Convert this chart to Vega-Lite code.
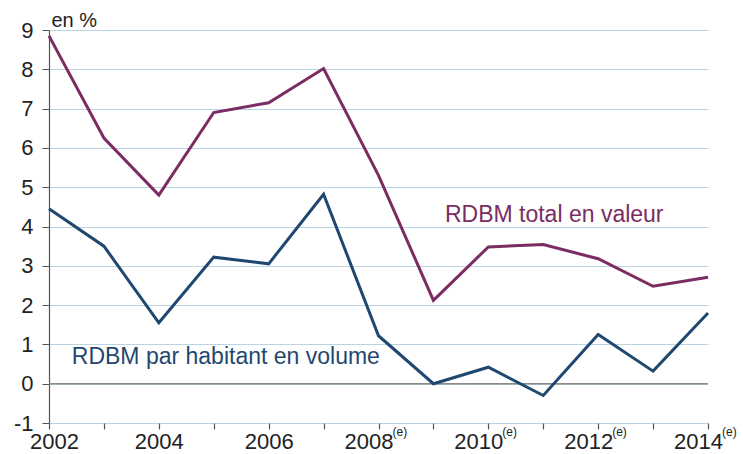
{
  "$schema": "https://vega.github.io/schema/vega-lite/v6.json",
  "width": 659,
  "height": 393,
  "autosize": {"type": "none"},
  "padding": {"left": 49, "top": 30, "right": 35, "bottom": 31},
  "background": "white",
  "config": {
    "view": {"stroke": null},
    "font": "Liberation Sans",
    "axis": {"labelFont": "Liberation Sans", "labelColor": "#222", "labelFontSize": 22, "labelOverlap": false}
  },
  "datasets": {
    "series": [
      {"year": 2002, "value": 8.85, "series": "total"},
      {"year": 2003, "value": 6.25, "series": "total"},
      {"year": 2004, "value": 4.8, "series": "total"},
      {"year": 2005, "value": 6.9, "series": "total"},
      {"year": 2006, "value": 7.15, "series": "total"},
      {"year": 2007, "value": 8.02, "series": "total"},
      {"year": 2008, "value": 5.3, "series": "total"},
      {"year": 2009, "value": 2.12, "series": "total"},
      {"year": 2010, "value": 3.48, "series": "total"},
      {"year": 2011, "value": 3.54, "series": "total"},
      {"year": 2012, "value": 3.18, "series": "total"},
      {"year": 2013, "value": 2.48, "series": "total"},
      {"year": 2014, "value": 2.71, "series": "total"},
      {"year": 2002, "value": 4.45, "series": "hab"},
      {"year": 2003, "value": 3.5, "series": "hab"},
      {"year": 2004, "value": 1.55, "series": "hab"},
      {"year": 2005, "value": 3.22, "series": "hab"},
      {"year": 2006, "value": 3.05, "series": "hab"},
      {"year": 2007, "value": 4.82, "series": "hab"},
      {"year": 2008, "value": 1.22, "series": "hab"},
      {"year": 2009, "value": 0.0, "series": "hab"},
      {"year": 2010, "value": 0.42, "series": "hab"},
      {"year": 2011, "value": -0.3, "series": "hab"},
      {"year": 2012, "value": 1.25, "series": "hab"},
      {"year": 2013, "value": 0.32, "series": "hab"},
      {"year": 2014, "value": 1.8, "series": "hab"}
    ],
    "labels": [
      {"year": 2011.2, "value": 4.3, "label": "RDBM total en valeur", "series": "total"},
      {"year": 2005.22, "value": 0.69, "label": "RDBM par habitant en volume", "series": "hab"}
    ],
    "sup": [
      {"year": 2008, "value": -1, "label": "(e)"},
      {"year": 2010, "value": -1, "label": "(e)"},
      {"year": 2012, "value": -1, "label": "(e)"},
      {"year": 2014, "value": -1, "label": "(e)"}
    ],
    "zero": [{"year": 2002, "value": 0}, {"year": 2014, "value": 0}]
  },
  "encoding": {
    "x": {"field": "year", "type": "quantitative", "scale": {"domain": [2002, 2014], "nice": false, "zero": false},
      "axis": {"title": null, "values": [2002, 2003, 2004, 2005, 2006, 2007, 2008, 2009, 2010, 2011, 2012, 2013, 2014],
        "labelOverlap": false,
        "labelExpr": "datum.value % 2 == 0 ? toString(datum.value) : ''",
        "labelOffset": {"condition": [{"test": "datum.value >= 2008", "value": -10}, {"test": "datum.value == 2002", "value": 5}], "value": 0},
        "grid": false, "domain": false, "tickColor": "#555", "tickSize": 6, "tickWidth": 1.2, "labelPadding": 2, "labelFlush": false}},
    "y": {"field": "value", "type": "quantitative", "scale": {"domain": [-1, 9], "nice": false, "zero": false},
      "axis": {"title": "en %", "titleAngle": 0, "titleAlign": "left", "titleBaseline": "alphabetic", "titleX": 2, "titleY": -4,
        "titleFont": "Liberation Sans", "titleFontSize": 20, "titleFontWeight": "normal", "titleColor": "#222",
        "values": [-1, 0, 1, 2, 3, 4, 5, 6, 7, 8, 9], "labelOverlap": false, "labelSeparation": 0,
        "labelExpr": "toString(datum.value)",
        "grid": true, "gridColor": "#b9d4e2", "gridWidth": 1.2,
        "domainColor": "#555", "domainWidth": 1.2, "tickColor": "#555", "tickSize": 7, "labelPadding": 9}}
  },
  "layer": [
    {
      "data": {"name": "zero"},
      "mark": {"type": "line", "color": "#8a8a8a", "strokeWidth": 1.5}
    },
    {
      "data": {"name": "series"},
      "mark": {"type": "line", "strokeWidth": 3, "strokeJoin": "miter"},
      "encoding": {
        "color": {"field": "series", "type": "nominal", "scale": {"domain": ["total", "hab"], "range": ["#7b2c62", "#1f4870"]}, "legend": null}
      }
    },
    {
      "data": {"name": "labels"},
      "mark": {"type": "text", "fontSize": 23, "align": "center", "baseline": "middle", "font": "Liberation Sans"},
      "encoding": {
        "text": {"field": "label"},
        "color": {"field": "series", "type": "nominal", "legend": null}
      }
    },
    {
      "data": {"name": "sup"},
      "mark": {"type": "text", "fontSize": 12, "align": "left", "baseline": "top", "dx": 14, "dy": 4, "color": "#222", "font": "Liberation Sans"},
      "encoding": {
        "text": {"field": "label"}
      }
    }
  ]
}
